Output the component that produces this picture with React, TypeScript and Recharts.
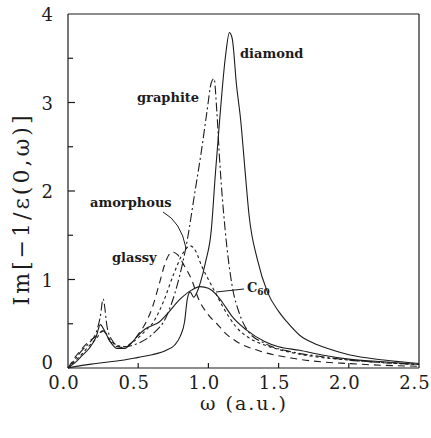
import React from 'react'
import { LineChart, Line, XAxis, YAxis } from 'recharts'

// ω (a.u.) and Im[-1/ε], one pair of arrays per material
const diamondW = [0, 0.1, 0.2, 0.3, 0.4, 0.5, 0.6, 0.7, 0.76, 0.8, 0.83, 0.85, 0.87, 0.895, 0.92, 0.94, 0.98, 1.02, 1.05, 1.08, 1.12, 1.15, 1.17, 1.2, 1.23, 1.26, 1.29, 1.35, 1.42, 1.5, 1.56, 1.65, 1.75, 1.85, 2.0, 2.25, 2.5]
const diamondV = [0, 0.03, 0.05, 0.07, 0.09, 0.12, 0.15, 0.2, 0.26, 0.36, 0.52, 0.78, 0.86, 0.8, 0.86, 0.95, 1.2, 1.55, 2.2, 2.8, 3.5, 3.79, 3.72, 3.2, 2.8, 2.25, 1.72, 1.22, 0.86, 0.64, 0.52, 0.37, 0.28, 0.22, 0.15, 0.09, 0.05]

const graphiteW = [0, 0.05, 0.1, 0.15, 0.2, 0.23, 0.25, 0.28, 0.32, 0.36, 0.4, 0.5, 0.6, 0.7, 0.78, 0.85, 0.9, 0.95, 0.99, 1.02, 1.04, 1.06, 1.08, 1.12, 1.17, 1.22, 1.28, 1.4, 1.6, 1.8, 2.0, 2.25, 2.5]
const graphiteV = [0, 0.1, 0.2, 0.28, 0.4, 0.58, 0.78, 0.45, 0.3, 0.25, 0.24, 0.28, 0.38, 0.58, 0.95, 1.45, 1.95, 2.45, 2.9, 3.22, 3.27, 2.9, 2.35, 1.55, 0.92, 0.62, 0.42, 0.28, 0.18, 0.13, 0.09, 0.06, 0.04]

const c60W = [0, 0.05, 0.1, 0.15, 0.2, 0.23, 0.26, 0.3, 0.35, 0.4, 0.45, 0.5, 0.55, 0.6, 0.65, 0.7, 0.8, 0.88, 0.94, 1.0, 1.05, 1.1, 1.17, 1.27, 1.4, 1.5, 1.65, 1.8, 2.0, 2.25, 2.5]
const c60V = [0, 0.06, 0.14, 0.22, 0.35, 0.49, 0.42, 0.3, 0.22, 0.22, 0.28, 0.37, 0.44, 0.48, 0.52, 0.6, 0.78, 0.88, 0.92, 0.9, 0.84, 0.74, 0.58, 0.43, 0.3, 0.24, 0.2, 0.15, 0.1, 0.07, 0.04]

const glassyW = [0, 0.05, 0.1, 0.15, 0.2, 0.25, 0.3, 0.35, 0.4, 0.45, 0.5, 0.55, 0.6, 0.65, 0.7, 0.74, 0.78, 0.83, 0.88, 0.93, 1.0, 1.06, 1.13, 1.2, 1.37, 1.6, 1.8, 2.0, 2.25, 2.5]
const glassyV = [0, 0.12, 0.22, 0.3, 0.36, 0.42, 0.3, 0.24, 0.23, 0.28, 0.38, 0.5, 0.68, 0.95, 1.22, 1.31, 1.28, 1.15, 1.0, 0.78, 0.6, 0.5, 0.38, 0.3, 0.19, 0.11, 0.07, 0.05, 0.03, 0.02]

const amorphousW = [0, 0.05, 0.1, 0.15, 0.2, 0.25, 0.3, 0.35, 0.4, 0.45, 0.5, 0.55, 0.6, 0.68, 0.75, 0.82, 0.87, 0.91, 0.95, 1.0, 1.05, 1.1, 1.2, 1.3, 1.4, 1.5, 1.75, 2.0, 2.25, 2.5]
const amorphousV = [0, 0.08, 0.16, 0.25, 0.33, 0.42, 0.32, 0.25, 0.24, 0.28, 0.34, 0.42, 0.5, 0.75, 1.05, 1.3, 1.38, 1.32, 1.16, 1.0, 0.85, 0.7, 0.46, 0.33, 0.26, 0.21, 0.13, 0.09, 0.06, 0.04]

const xTicks = [0, 0.5, 1.0, 1.5, 2.0, 2.5]
const yTicks = [0, 0.5, 1, 1.5, 2, 2.5, 3, 3.5, 4]

const pts = (w: number[], v: number[]) => w.map((x, i) => ({ w: x, v: v[i] }))

const INK = '#1c1c1c'
const FONT = '"DejaVu Serif", "Liberation Serif", serif'

const BottomTick = ({ x, y, payload }: any) => {
  const edge = payload.value === 0 || payload.value === 2.5
  return (
    <g>
      {!edge && <line x1={x} y1={y} x2={x} y2={y - 5} stroke={INK} strokeWidth={1.2} />}
      <text x={x - 4} y={y + 21} textAnchor="middle" fontFamily={FONT} fontSize={18} letterSpacing={1} fill={INK}>
        {payload.value.toFixed(1)}
      </text>
    </g>
  )
}

const TopTick = ({ x, y, payload }: any) => {
  if (payload.value === 0 || payload.value === 2.5) return <g />
  return <line x1={x} y1={y} x2={x} y2={y + 5} stroke={INK} strokeWidth={1.2} />
}

const LeftTick = ({ x, y, payload }: any) => {
  const major = Number.isInteger(payload.value)
  const edge = payload.value === 0 || payload.value === 4
  return (
    <g>
      {!edge && <line x1={x} y1={y} x2={x + (major ? 7 : 5)} y2={y} stroke={INK} strokeWidth={1.2} />}
      {major && (
        <text x={x - 15} y={y + (payload.value === 0 ? 1 : 7)} textAnchor="end" fontFamily={FONT} fontSize={18} fill={INK}>
          {payload.value}
        </text>
      )}
    </g>
  )
}

const RightTick = ({ x, y, payload }: any) => {
  if (payload.value === 0 || payload.value === 4) return <g />
  return <line x1={x} y1={y} x2={x - 5} y2={y} stroke={INK} strokeWidth={1.2} />
}

const labelStyle = { fontFamily: FONT, fontSize: 13, fontWeight: 700, fill: INK } as const

export default function App() {
  return (
    <div style={{ position: 'absolute', left: 0, top: 0, width: 431, height: 438, background: '#fff' }}>
      <LineChart width={431} height={438} margin={{ top: 13, right: 11, left: 8, bottom: 20 }}>
        <XAxis xAxisId="b" dataKey="w" type="number" domain={[0, 2.5]} ticks={xTicks} interval={0}
          height={50} tickSize={0} tickMargin={0} tick={<BottomTick />} axisLine={{ stroke: INK, strokeWidth: 1.2 }} />
        <XAxis xAxisId="t" orientation="top" dataKey="w" type="number" domain={[0, 2.5]} ticks={xTicks} interval={0}
          height={1} tickSize={0} tickMargin={0} tick={<TopTick />} axisLine={{ stroke: INK, strokeWidth: 1.2 }} />
        <YAxis yAxisId="l" type="number" domain={[0, 4]} ticks={yTicks} interval={0}
          width={60} tickSize={0} tickMargin={0} tick={<LeftTick />} axisLine={{ stroke: INK, strokeWidth: 1.2 }} />
        <YAxis yAxisId="r" orientation="right" type="number" domain={[0, 4]} ticks={yTicks} interval={0}
          width={1} tickSize={0} tickMargin={0} tick={<RightTick />} axisLine={{ stroke: INK, strokeWidth: 1.2 }} />

        <Line xAxisId="b" yAxisId="l" data={pts(diamondW, diamondV)} dataKey="v" type="monotone"
          stroke={INK} strokeWidth={1.1} dot={false} isAnimationActive={false} />
        <Line xAxisId="b" yAxisId="l" data={pts(graphiteW, graphiteV)} dataKey="v" type="monotone"
          stroke={INK} strokeWidth={1.1} strokeDasharray="9 3 2 3" dot={false} isAnimationActive={false} />
        <Line xAxisId="b" yAxisId="l" data={pts(c60W, c60V)} dataKey="v" type="monotone"
          stroke={INK} strokeWidth={1.1} dot={false} isAnimationActive={false} />
        <Line xAxisId="b" yAxisId="l" data={pts(glassyW, glassyV)} dataKey="v" type="monotone"
          stroke={INK} strokeWidth={1.1} strokeDasharray="7 5" dot={false} isAnimationActive={false} />
        <Line xAxisId="b" yAxisId="l" data={pts(amorphousW, amorphousV)} dataKey="v" type="monotone"
          stroke={INK} strokeWidth={1.1} strokeDasharray="3 3" dot={false} isAnimationActive={false} />
      </LineChart>

      <svg width={431} height={438} style={{ position: 'absolute', left: 0, top: 0, pointerEvents: 'none' }}>
        <text x={240} y={58} {...labelStyle}>diamond</text>
        <text x={137} y={102} {...labelStyle}>graphite</text>
        <text x={90} y={207} {...labelStyle}>amorphous</text>
        <text x={112} y={262} {...labelStyle}>glassy</text>
        <text x={247} y={292} {...labelStyle}>C<tspan fontSize={9} dy={3}>60</tspan></text>
        <path d="M163 212 Q181 222 186 248" fill="none" stroke={INK} strokeWidth={1} />
        <line x1={216} y1={292} x2={244} y2={289} stroke={INK} strokeWidth={1} />
        <text x={21} y={209} transform="rotate(-90 21 209)" textAnchor="middle" dominantBaseline="central"
          fontFamily={FONT} fontSize={22} letterSpacing={3} fill={INK}>
          Im[−1/ε(0,ω)]
        </text>
        <text x={244} y={410} textAnchor="middle" fontFamily={FONT} fontSize={19} letterSpacing={2} fill={INK}>
          {'ω  (a.u.)'}
        </text>
      </svg>
    </div>
  )
}
